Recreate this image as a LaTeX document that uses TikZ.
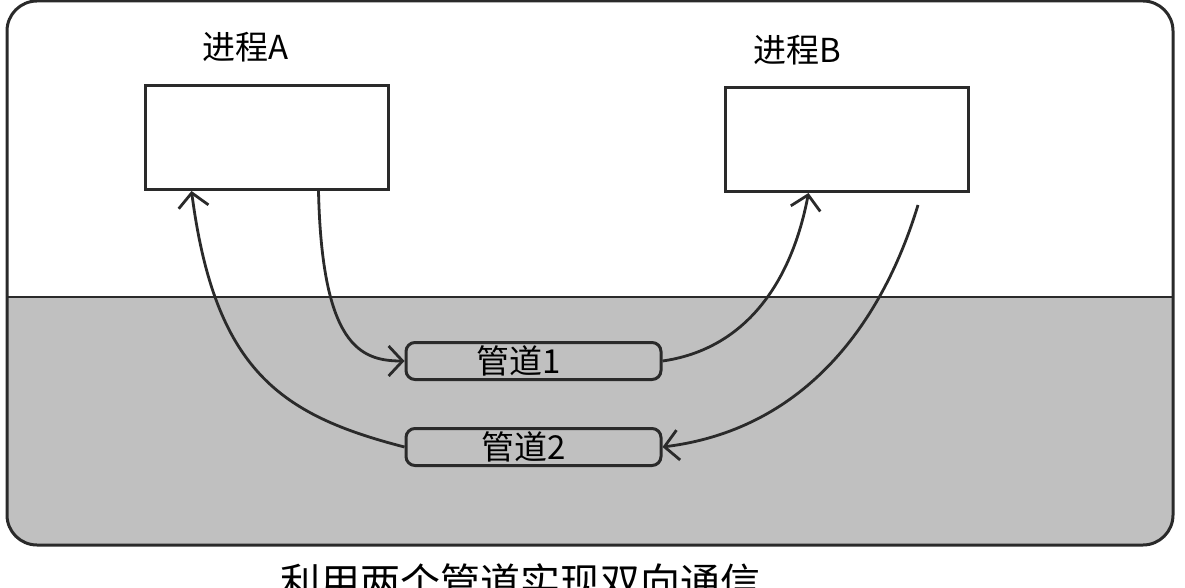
\documentclass[tikz,border=0pt]{standalone}
\usepackage{fontspec}
\setmainfont{Noto Sans CJK SC}
\usetikzlibrary{arrows.meta}
\definecolor{greyfill}{HTML}{C0C0C0}
\definecolor{ink}{HTML}{2A2A2A}
\tikzset{
  ink/.style={draw=ink, line width=3pt},
  procbox/.style={ink, fill=white, minimum width=243pt, minimum height=104pt, inner sep=0pt},
  pipebox/.style={ink, fill=greyfill, rounded corners=9pt, minimum width=255pt, minimum height=37pt, inner sep=0pt, font=\fontsize{33}{35}\selectfont},
  lbl/.style={font=\fontsize{33}{35}\selectfont, inner sep=0pt},
  conn/.style={ink, line width=2.8pt, -{Straight Barb[length=14pt,width=30pt,line width=2.8pt]}},
}
\begin{document}
\begin{tikzpicture}[x=1pt,y=-1pt]
\useasboundingbox (0,0) rectangle (1185,588);
\begin{scope}
  \clip[rounded corners=30pt] (7,1) rectangle (1173,545);
  \fill[greyfill] (0,297) rectangle (1185,588);
\end{scope}
\draw[ink, rounded corners=30pt] (7,1) rectangle (1173,545);
\draw[ink, line width=2.6pt] (7,297) -- (1173,297);

\node[procbox] (A) at (266.5,137.5) {};
\node[procbox] (B) at (846.5,139.5) {};
\node[lbl] (la) at (246,47) {进程A};
\node[lbl] (lb) at (797,50) {进程B};

\node[pipebox] (p1) at (533.5,361) {\hspace*{-30pt}管道1};
\node[pipebox] (p2) at (533.5,447) {\hspace*{-20pt}管道2};

\coordinate (fe) at (918,205);

\draw[conn] ([xshift=52pt]A.south) .. controls (322,345) and (360,361) .. (p1.west);
\draw[conn] (p2.west) .. controls (280,415) and (215,370) .. ([xshift=-75pt]A.south);
\draw[conn] (p1.east) .. controls (740,350) and (790,290) .. ([xshift=-38pt]B.south);
\draw[conn] (fe) .. controls (880,330) and (800,430) .. (p2.east);

\node[font=\fontsize{40}{42}\selectfont, inner sep=0pt] (cap) at (520,582) {利用两个管道实现双向通信};
\end{tikzpicture}
\end{document}
